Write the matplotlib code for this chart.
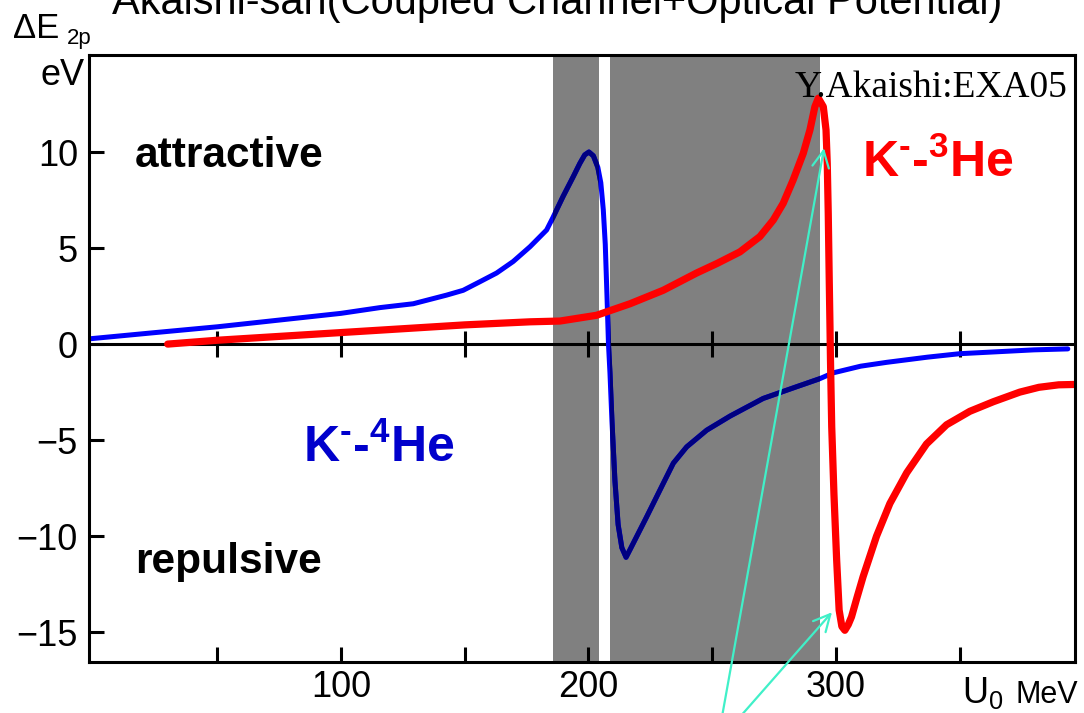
import matplotlib
matplotlib.use("Agg")
import matplotlib.pyplot as plt

plt.rcParams['font.family'] = ['Liberation Sans', 'DejaVu Sans']
plt.rcParams['mathtext.fontset'] = 'custom'
plt.rcParams['mathtext.rm'] = 'Liberation Sans'
plt.rcParams['mathtext.bf'] = 'Liberation Sans:bold'
plt.rcParams['mathtext.it'] = 'Liberation Sans:italic'

# K- 4He : energy shift of the 2p level vs. potential depth U0
he4_u0 = [-2, 25, 50, 75, 100, 115.8, 129.2, 142.7, 149.4, 156.2, 162.9, 169.6, 176.4,
          183.1, 185.7, 189.8, 193.8, 196.5, 198.5, 200.2, 202, 203.8, 205, 206,
          206.8, 207.5, 208.1, 208.7, 209.5, 210.7, 212, 213.5, 215.2, 216.8, 223.5,
          230.2, 234.3, 239.7, 247.8, 257.2, 270.6, 284.1, 293.5, 298.8, 310,
          320.5, 337, 350, 365, 380, 393.7]
he4_de = [0.27, 0.6, 0.9, 1.25, 1.6, 1.9, 2.1, 2.55, 2.8, 3.25, 3.7, 4.3, 5.07,
          5.94, 6.6, 7.7, 8.7, 9.4, 9.85, 10.0, 9.8, 9.2, 8.4, 7.0,
          5.2, 2.5, 0.0, -1.5, -4.0, -7.1, -9.4, -10.6, -11.1, -10.7, -9.0,
          -7.26, -6.2, -5.35, -4.48, -3.75, -2.83, -2.22, -1.8, -1.5, -1.15,
          -0.95, -0.68, -0.5, -0.4, -0.3, -0.25]

# K- 3He
he3_u0 = [30, 50, 75, 100, 125, 150, 176.4, 188.5, 203.3, 216.8, 230.2, 243.7, 252,
          261.2, 269.3, 274.7, 278.7, 282.7, 286.8, 289.5, 291.5, 292.9, 294.9, 296.0,
          296.5, 296.9, 297.3, 297.6, 297.8, 298.3, 299.2, 300.3, 301.3, 302.4, 303.6,
          305, 306.3, 308.5, 311, 316.4, 321.8, 328.6, 336.6, 344.7, 354.1, 363.6,
          374.3, 382, 390, 397]
he3_de = [0.0, 0.2, 0.4, 0.6, 0.8, 1.0, 1.16, 1.2, 1.5, 2.1, 2.8, 3.7, 4.2,
          4.8, 5.6, 6.46, 7.33, 8.54, 9.93, 11.15, 12.36, 12.8, 12.36, 11.15,
          9.4, 6.8, 3.33, 0.9, -0.83, -4.3, -7.8, -11.25, -13.85, -14.7, -14.9,
          -14.6, -14.2, -13.2, -12.1, -10.0, -8.3, -6.7, -5.2, -4.2, -3.5, -3.0,
          -2.5, -2.25, -2.12, -2.1]

# windows that are excluded (shaded)
shade_bands = [(185.7, 204.2), (208.7, 293.5)]

x_ticks = [50, 100, 150, 200, 250, 300, 350]
x_ticklabels = ['', '100', '', '200', '', '300', '']
y_ticks = [-15, -10, -5, 0, 5, 10]

W, H = 1084, 713
fig = plt.figure(figsize=(W / 100, H / 100), dpi=100)
ax = fig.add_axes([89 / W, 1 - 662 / H, (1075 - 89) / W, (662 - 55) / H])
ax.set_xlim(-1.8, 396.6)
ax.set_ylim(-16.55, 15.05)

bands = []
for lo, hi in shade_bands:
    bands.append(ax.axvspan(lo, hi, color='#808080', lw=0, zorder=1))

# zero line with crossing ticks
ax.axhline(0, color='k', lw=2.2, zorder=2)
ax.plot(x_ticks, [0] * len(x_ticks), ls='none', marker='|', ms=19, mew=2.2,
        color='k', zorder=2)

ax.plot(he4_u0, he4_de, color='#0000ff', lw=3.6, zorder=3,
        solid_capstyle='round', solid_joinstyle='round')
for b in bands:
    ln, = ax.plot(he4_u0, he4_de, color='#000080', lw=3.6, zorder=3.1,
                  solid_joinstyle='round')
    ln.set_clip_path(b)
ax.plot(he3_u0, he3_de, color='#ff0000', lw=5.2, zorder=4,
        solid_capstyle='round', solid_joinstyle='round')

ax.set_xticks(x_ticks)
ax.set_xticklabels(x_ticklabels)
ax.set_yticks(y_ticks)
ax.tick_params(axis='both', direction='in', length=11, width=2.2, labelsize=26,
               colors='k', top=False, right=False)
ax.tick_params(axis='y', pad=8)
ax.tick_params(axis='x', pad=6)
for sp in ax.spines.values():
    sp.set_linewidth(2.2)
    sp.set_zorder(5)

ax.text(16.8, 9.2, 'attractive', fontsize=30.5, fontweight='bold', va='baseline', zorder=6)
ax.text(16.8, -11.9, 'repulsive', fontsize=30.5, fontweight='bold', va='baseline', zorder=6)
ax.text(84.6, -6.15, r'K$^{\mathbf{‐}}$-$^{\mathbf{4}}$He', fontsize=36,
        fontweight='bold', color='#0000cc', va='baseline', zorder=6)
ax.text(310.5, 8.7, r'K$^{\mathbf{‐}}$-$^{\mathbf{3}}$He', fontsize=36,
        fontweight='bold', color='#ff0000', va='baseline', zorder=6)
ax.text(283.4, 12.86, 'Y.Akaishi:EXA05', fontsize=27, family='Liberation Serif',
        va='baseline', zorder=6)

arrow_kw = dict(arrowstyle='->,head_length=0.6,head_width=0.3', color='#40f0c8',
                lw=1.6, mutation_scale=20, shrinkA=0, shrinkB=0, clip_on=False)
ax.annotate('', xy=(295.2, 10.2), xytext=(252.3, -20.6), arrowprops=arrow_kw,
            annotation_clip=False, zorder=7)
ax.annotate('', xy=(298.4, -13.96), xytext=(253.1, -20.6), arrowprops=arrow_kw,
            annotation_clip=False, zorder=7)

fig.text(112 / W, 1 - 14 / H, 'Akaishi-san(Coupled Channel+Optical Potential)',
         fontsize=30, va='baseline')
fig.text(13 / W, 1 - 38 / H, 'ΔE', fontsize=25, va='baseline')
fig.text(67 / W, 1 - 44 / H, '2p', fontsize=16, va='baseline')
fig.text(40 / W, 1 - 85 / H, 'eV', fontsize=26, va='baseline')
fig.text(962 / W, 1 - 703 / H, r'U$_{\mathregular{0}}$', fontsize=26, va='baseline')
fig.text(1016 / W, 1 - 703 / H, 'MeV', fontsize=22, va='baseline')

fig.savefig('out.png', dpi=100)
